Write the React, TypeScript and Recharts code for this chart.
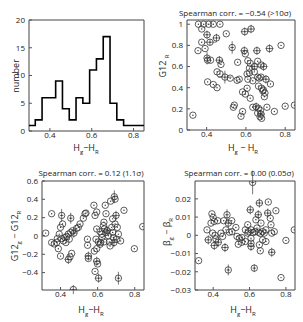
import React from 'react'
import {
  ComposedChart, ScatterChart, Line, Scatter, ErrorBar, XAxis, YAxis, ReferenceArea
} from 'recharts'

// shared x axis (H_g - H_R)
const xDomain = [0.3, 0.85]
const xTicks = [0.4, 0.6, 0.8]

// histogram: left edge of each bin and its count
const binEdges = [0.3, 0.33, 0.3625, 0.395, 0.4275, 0.46, 0.4925, 0.525, 0.5575, 0.59, 0.6225, 0.655, 0.6875, 0.72, 0.7525, 0.785, 0.8175]
const binCounts = [1, 2, 6, 6, 9, 4, 2, 6, 5, 11, 13, 17, 5, 2, 1, 1, 1]
const countTicks = [0, 5, 10, 15, 20]

// [x, y, ex, ey]
const g12Points = [
  [0.358, 1], [0.385, 1], [0.41, 1], [0.434, 1], [0.468, 1],
  [0.375, 0.955], [0.402, 0.9, 0.02, 0.04], [0.5, 0.91], [0.594, 0.93, 0.02, 0.04], [0.626, 0.955, 0.02, 0.04],
  [0.45, 0.87, 0.02, 0.04], [0.375, 0.83], [0.417, 0.83, 0.03, 0.03], [0.392, 0.77], [0.356, 0.75],
  [0.53, 0.78, 0.01, 0.06], [0.592, 0.75, 0.02, 0.04], [0.597, 0.72], [0.656, 0.75, 0.02, 0.04], [0.72, 0.77, 0.02, 0.04], [0.779, 0.8],
  [0.402, 0.68, 0.01, 0.06], [0.405, 0.66], [0.42, 0.66], [0.465, 0.66, 0.02, 0.04], [0.473, 0.62],
  [0.558, 0.64], [0.61, 0.655], [0.622, 0.63], [0.66, 0.65], [0.618, 0.585], [0.643, 0.6, 0.02, 0.04], [0.677, 0.615], [0.69, 0.6, 0.02, 0.04],
  [0.643, 0.55], [0.618, 0.54], [0.606, 0.53], [0.453, 0.55], [0.468, 0.53], [0.493, 0.5, 0.035, 0.06], [0.52, 0.49], [0.555, 0.47], [0.566, 0.48],
  [0.61, 0.48], [0.635, 0.465], [0.66, 0.5], [0.668, 0.49], [0.677, 0.5], [0.702, 0.48, 0.02, 0.04], [0.725, 0.435], [0.664, 0.415],
  [0.405, 0.455], [0.434, 0.43], [0.453, 0.4], [0.606, 0.395], [0.583, 0.36], [0.597, 0.34], [0.622, 0.3], [0.68, 0.395], [0.689, 0.38], [0.697, 0.35], [0.694, 0.315], [0.686, 0.37],
  [0.541, 0.235], [0.536, 0.215], [0.583, 0.175], [0.575, 0.13], [0.635, 0.215], [0.652, 0.22, 0.02, 0.04], [0.664, 0.205], [0.674, 0.185], [0.672, 0.125], [0.68, 0.11], [0.66, 0.16],
  [0.707, 0.215], [0.745, 0.175], [0.8, 0.225], [0.847, 0.235], [0.33, 0.14], [0.677, 0.15, 0.02, 0.04]
]
const g12Ticks = [0, 0.2, 0.4, 0.6, 0.8, 1]

const dG12Points = [
  [0.32, 0.031], [0.352, 0.243], [0.352, -0.072], [0.366, -0.087], [0.379, -0.072], [0.383, -0.028], [0.388, -0.139], [0.393, 0.02],
  [0.4, 0.094], [0.406, 0.224, 0.01, 0.07], [0.411, 0.131], [0.4, -0.22], [0.406, -0.028], [0.415, -0.054], [0.424, -0.017], [0.429, -0.072],
  [0.433, -0.006], [0.442, 0.02], [0.447, -0.035], [0.455, 0.194, 0.01, 0.06], [0.455, 0.039], [0.451, -0.228], [0.442, -0.257, 0.02, 0.05],
  [0.46, -0.19], [0.465, 0.057], [0.472, 0.031, 0.02, 0.05], [0.487, 0.083], [0.496, 0.094], [0.469, -0.585, 0.02, 0.05], [0.505, 0.131],
  [0.523, 0.194], [0.532, 0.243], [0.537, 0.25], [0.545, -0.035], [0.546, -0.102], [0.55, -0.22, 0.02, 0.05], [0.55, -0.246],
  [0.58, 0.335], [0.586, 0.224], [0.595, 0.261], [0.595, 0.076], [0.582, -0.165], [0.595, -0.139], [0.604, -0.065], [0.591, -0.035],
  [0.586, -0.387], [0.595, -0.276, 0.02, 0.05], [0.6, -0.306], [0.605, -0.461, 0.02, 0.05], [0.613, 0.046], [0.622, 0.02], [0.623, -0.017],
  [0.631, 0.113], [0.634, 0.15], [0.636, 0.076], [0.634, -0.065], [0.616, -0.072], [0.613, -0.091], [0.641, 0.335], [0.645, 0.243],
  [0.645, 0.039], [0.652, 0.057, 0.02, 0.05], [0.658, 0.002], [0.663, -0.065], [0.667, -0.109], [0.676, 0.094], [0.681, 0.039],
  [0.685, -0.017], [0.688, -0.072, 0.02, 0.05], [0.681, 0.187], [0.67, 0.38], [0.69, 0.428, 0.01, 0.07], [0.694, 0.402],
  [0.699, 0.224, 0.02, 0.05], [0.703, -0.035], [0.712, 0.02], [0.694, 0.131], [0.706, 0.094], [0.724, -0.054], [0.742, 0.28],
  [0.712, -0.461, 0.01, 0.07], [0.798, -0.139], [0.843, 0.102]
]
const dG12Ticks = [-0.4, -0.2, 0, 0.2, 0.4, 0.6]

const dBetaPoints = [
  [0.617, 0.029, 0.01, 0.0065], [0.32, -0.0139], [0.393, 0.0118], [0.4, 0.0098], [0.406, 0.0076], [0.388, 0.0067], [0.425, 0.008],
  [0.458, 0.008], [0.476, 0.0113, 0.01, 0.003], [0.483, 0.0067, 0.02, 0.0025], [0.502, 0.008], [0.366, 0.003], [0.373, -0.0025, 0.02, 0.0025],
  [0.397, 0.0012], [0.41, 0], [0.415, -0.002], [0.428, -0.0038, 0.02, 0.0025], [0.406, -0.0056, 0.02, 0.0025], [0.443, 0.0012],
  [0.452, -0.0006], [0.465, -0.0067, 0.02, 0.0025], [0.47, 0.003], [0.489, 0.0017], [0.503, 0.002], [0.525, 0.0043], [0.531, -0.0006],
  [0.544, -0.0016], [0.557, -0.0012], [0.538, -0.0049], [0.557, -0.0038], [0.577, -0.0034], [0.483, -0.019, 0.01, 0.003],
  [0.604, 0.014, 0.02, 0.0025], [0.59, 0.0058], [0.595, 0.002], [0.608, 0.003], [0.608, -0.0016], [0.608, -0.0043],
  [0.608, -0.0061, 0.02, 0.0025], [0.626, -0.018, 0.01, 0.0022], [0.635, 0.0085], [0.641, 0.004], [0.648, 0.0017],
  [0.654, 0.0177, 0.02, 0.0025], [0.648, 0.0113, 0.02, 0.0025], [0.663, 0.0067], [0.672, 0.002], [0.681, 0.0012], [0.69, 0.003],
  [0.672, -0.0025], [0.654, -0.0052], [0.659, -0.0085], [0.69, -0.0034], [0.7, 0.0122, 0.02, 0.0025], [0.703, 0.0183],
  [0.714, 0.0094], [0.718, 0.0058], [0.722, 0.0012], [0.736, 0.002], [0.745, 0.0135], [0.722, -0.0093, 0.02, 0.0025],
  [0.8, -0.0028], [0.846, 0.003], [0.773, -0.0232], [0.577, 0.003], [0.59, 0.0012], [0.62, 0.0015], [0.63, 0.002], [0.66, 0.001]
]
const dBetaTicks = [-0.03, -0.02, -0.01, 0, 0.01, 0.02]

const FONT = "'Open Sans', sans-serif"
const INK = '#333'
const tickStyle = { fontSize: 8, fill: '#222', fontFamily: FONT }
const fmt = (v: number) => String(v).replace('-', '\u2212')

const toRows = (pts: number[][]) =>
  pts.map(([x, y, ex = 0, ey = 0]) => ({ x, y, ex, ey }))

const Ring = (props: any) => {
  const { cx, cy } = props
  if (cx == null || cy == null) return null
  return (
    <g>
      <circle cx={cx} cy={cy} r={3.2} fill="none" stroke={INK} strokeWidth={0.8} />
      <circle cx={cx} cy={cy} r={0.7} fill={INK} />
    </g>
  )
}

type Box = { x0: number; y0: number; x1: number; y1: number }

// axes take 1px each, so shift the margins by it
const margins = (b: Box) => ({ top: b.y0, left: b.x0 - 1, right: 303 - b.x1, bottom: 322 - b.y1 - 1 })

const layer: React.CSSProperties = { position: 'absolute', left: 0, top: 0 }

const box1 = { x0: 29, y0: 20, x1: 144, y1: 131 }
const box2 = { x0: 187, y0: 20, x1: 295, y1: 130 }
const box3 = { x0: 42, y0: 181, x1: 144, y1: 290 }
const box4 = { x0: 195, y0: 181, x1: 295, y1: 290 }

const ScatterPanel = ({ box, pts, yDomain, yTicks }: { box: Box; pts: number[][]; yDomain: number[]; yTicks: number[] }) => (
  <div style={layer}>
    <ScatterChart width={303} height={322} margin={margins(box)}>
      <XAxis type="number" dataKey="x" domain={xDomain} ticks={xTicks} allowDataOverflow height={1}
        axisLine={false} tickSize={-3} tickMargin={4} tick={tickStyle} tickLine={{ stroke: '#555' }} tickFormatter={fmt} />
      <YAxis type="number" dataKey="y" domain={yDomain} ticks={yTicks} allowDataOverflow width={1}
        axisLine={false} tickSize={-3} tickMargin={7} tick={tickStyle} tickLine={{ stroke: '#555' }} tickFormatter={fmt} />
      <ReferenceArea x1={xDomain[0]} x2={xDomain[1]} y1={yDomain[0]} y2={yDomain[1]} fill="none" stroke="#444" strokeWidth={1} fillOpacity={0} />
      <Scatter data={toRows(pts)} shape={<Ring />} isAnimationActive={false}>
        <ErrorBar dataKey="ey" direction="y" width={0} stroke="#555" strokeWidth={0.8} />
        <ErrorBar dataKey="ex" direction="x" width={0} stroke="#555" strokeWidth={0.8} />
      </Scatter>
    </ScatterChart>
  </div>
)

const histData = binEdges
  .map((x, i) => ({ x, count: binCounts[i] }))
  .concat({ x: xDomain[1], count: binCounts[binCounts.length - 1] })

const HLabel = ({ x, y, spaced }: { x: number; y: number; spaced?: boolean }) => (
  <text x={x} y={y} textAnchor="middle" fontSize={9} fontFamily={FONT} fill="#222">
    <tspan>H</tspan>
    <tspan fontSize={6} dy={3}>g</tspan>
    <tspan dy={-3}>{spaced ? ' \u2212 H' : '\u2212H'}</tspan>
    <tspan fontSize={6} dy={3}>R</tspan>
  </text>
)

const VLabel = ({ x, y, parts }: { x: number; y: number; parts: [string, string][] }) => (
  <text x={0} y={0} transform={`translate(${x},${y}) rotate(-90)`} textAnchor="middle" fontSize={9} fontFamily={FONT} fill="#222">
    {parts.map(([main, sub], i) => (
      <React.Fragment key={i}>
        <tspan dy={i === 0 ? 0 : -3}>{main}</tspan>
        {sub ? <tspan fontSize={6} dy={3}>{sub}</tspan> : null}
      </React.Fragment>
    ))}
  </text>
)

const Title = ({ x, y, children }: { x: number; y: number; children: string }) => (
  <text x={x} y={y} textAnchor="middle" fontSize={8} fontFamily={FONT} fill="#222">{children}</text>
)

export default function App() {
  return (
    <div style={{ position: 'absolute', left: 0, top: 0, width: 303, height: 322, background: '#fff' }}>
      <div style={layer}>
        <ComposedChart width={303} height={322} data={histData} margin={margins(box1)}>
          <XAxis type="number" dataKey="x" domain={xDomain} ticks={xTicks} allowDataOverflow height={1}
            axisLine={false} tickSize={-3} tickMargin={4} tick={tickStyle} tickLine={{ stroke: '#555' }} />
          <YAxis type="number" domain={[0, 20]} ticks={countTicks} allowDataOverflow width={1}
            axisLine={false} tickSize={-3} tickMargin={7} tick={tickStyle} tickLine={{ stroke: '#555' }} />
          <ReferenceArea x1={xDomain[0]} x2={xDomain[1]} y1={0} y2={20} fill="none" stroke="#444" strokeWidth={1} fillOpacity={0} />
          <Line type="stepAfter" dataKey="count" stroke="#000" strokeWidth={1.6} dot={false} isAnimationActive={false} />
        </ComposedChart>
      </div>
      <ScatterPanel box={box2} pts={g12Points} yDomain={[0, 1.04]} yTicks={g12Ticks} />
      <ScatterPanel box={box3} pts={dG12Points} yDomain={[-0.59, 0.6]} yTicks={dG12Ticks} />
      <ScatterPanel box={box4} pts={dBetaPoints} yDomain={[-0.03, 0.0298]} yTicks={dBetaTicks} />
      <svg width={303} height={322} style={{ ...layer, pointerEvents: 'none' }}>
        <Title x={235} y={16}>{'Spearman corr. = \u22120.54 (>10\u03c3)'}</Title>
        <Title x={91} y={176}>{'Spearman corr. = 0.12 (1.1\u03c3)'}</Title>
        <Title x={239} y={176}>{'Spearman corr. = 0.00 (0.05\u03c3)'}</Title>
        <HLabel x={86} y={151} />
        <HLabel x={243} y={151} spaced />
        <HLabel x={91} y={313} />
        <HLabel x={243} y={313} />
        <VLabel x={19} y={76} parts={[['number', '']]} />
        <VLabel x={166} y={66} parts={[['G12 ', 'R']]} />
        <VLabel x={18} y={236} parts={[['G12', 'g'], [' \u2212 G12', 'R']]} />
        <VLabel x={170} y={232} parts={[['\u03b2', 'g'], [' \u2212 \u03b2', 'R']]} />
      </svg>
    </div>
  )
}
